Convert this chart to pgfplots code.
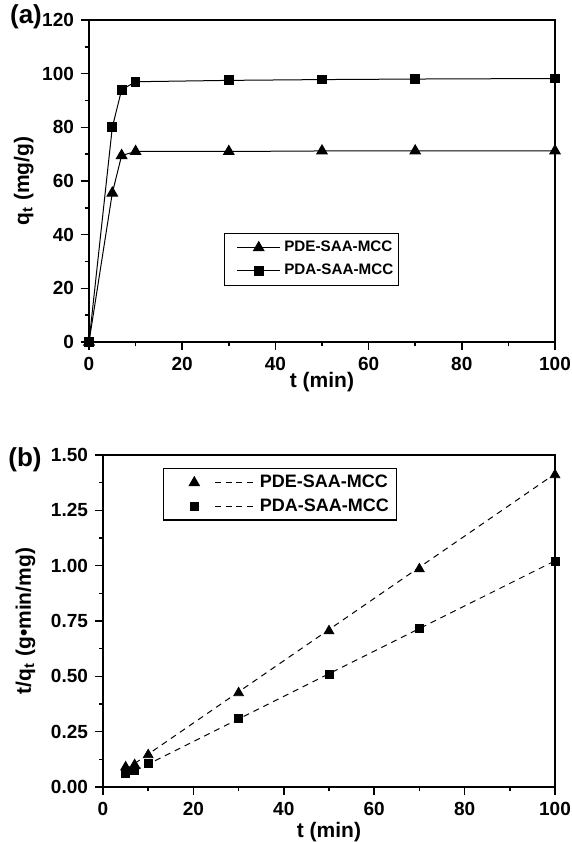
\documentclass[border=0pt]{standalone}
\usepackage{fontspec}
\setmainfont{Liberation Sans}
\usepackage{pgfplots}
\pgfplotsset{compat=1.18}

\pgfplotstableread{
t    pde    pda
0    0      0
5    55.5   80
7    69.5   94
10   71     97
30   71     97.5
50   71.2   97.8
70   71.2   98
100  71.2   98.2
}\kinetics

\pgfplotstableread{
t    pde    pda
5    0.090  0.063
7    0.100  0.075
10   0.145  0.105
30   0.425  0.310
50   0.705  0.510
70   0.985  0.715
100  1.410  1.020
}\pseudo

\pgfplotsset{
  kin/.style={
    scale only axis,
    xmin=0, xmax=100, xtick={0,20,...,100}, minor x tick num=1,
    tick align=outside, xtick pos=bottom, ytick pos=left,
    axis line style={line width=1pt},
    major tick length=4pt, minor tick length=2.2pt,
    every tick/.style={black, line width=0.8pt},
    tick label style={font=\bfseries\fontsize{9.5}{11}\selectfont},
    label style={font=\bfseries\fontsize{10.5}{12}\selectfont},
    /pgf/number format/assume math mode=true,
    legend style={font=\bfseries\fontsize{9}{10.5}\selectfont, draw=black,
      line width=0.6pt, cells={anchor=west}, inner xsep=2pt, inner ysep=1pt,
      nodes={inner xsep=2pt, inner ysep=2pt}, row sep=0pt},
  },
}

\begin{document}
\begin{tikzpicture}
\useasboundingbox (0,0) rectangle (286pt,-421pt);

% (a) uptake versus time
\begin{axis}[kin,
  at={(44.5pt,-171pt)}, anchor=south west,
  width=233pt, height=161pt,
  ymin=0, ymax=120, ytick={0,20,...,120}, minor y tick num=1,
  xlabel={t (min)}, ylabel={q\textsubscript{t} (mg/g)},
  xlabel shift=-6pt, ylabel shift=-2.5pt,
  legend style={at={(0.29,0.34)}, anchor=north west,
    font=\bfseries\fontsize{7.6}{9}\selectfont, inner xsep=1pt, inner ysep=1.5pt,
    nodes={inner xsep=1.8pt, inner ysep=2.4pt}},
  legend image code/.code={
    \draw[line width=0.5pt] (5pt,0pt) -- (26.5pt,0pt);
    \draw[line width=0.5pt] plot coordinates {(15.75pt,0pt)};
    \path (0pt,0pt);
  },
]
\addplot[black, line width=0.5pt, mark=triangle*, mark size=3pt,
  mark options={fill=black}] table[x=t, y=pde] {\kinetics};
\addplot[black, line width=0.5pt, mark=square*, mark size=2.2pt,
  mark options={fill=black}] table[x=t, y=pda] {\kinetics};
\legend{PDE-SAA-MCC, PDA-SAA-MCC}
\end{axis}
\node[font=\bfseries\fontsize{13}{15}\selectfont] at (13pt,-8.5pt) {(a)};

% (b) pseudo-second-order plot
\begin{axis}[kin,
  at={(51.5pt,-393.5pt)}, anchor=south west,
  width=226pt, height=166pt,
  ymin=0, ymax=1.5, ytick={0,0.25,...,1.5}, minor y tick num=1,
  yticklabel style={/pgf/number format/.cd, fixed, fixed zerofill, precision=2},
  xlabel={t (min)}, ylabel={t/q\textsubscript{t} (g•min/mg)},
  xlabel shift=-3.5pt, ylabel shift=1pt,
  legend style={at={(0.133,0.96)}, anchor=north west},
]
\addplot[black, only marks, mark=triangle*, mark size=2.8pt,
  mark options={fill=black},
  legend image code/.code={
    \path (0pt,0pt);
    \draw plot[mark=triangle*, only marks] coordinates {(13pt,0pt)};
    \draw[line width=0.5pt, solid, dash pattern=on 3pt off 2.2pt] (23.5pt,0pt) -- (43.5pt,0pt);
  }] table[x=t, y=pde] {\pseudo};
\addplot[black, only marks, mark=square*, mark size=2pt,
  mark options={fill=black},
  legend image code/.code={
    \path (0pt,0pt);
    \draw plot[mark=square*, only marks] coordinates {(13pt,0pt)};
    \draw[line width=0.5pt, solid, dash pattern=on 3pt off 2.2pt] (23.5pt,0pt) -- (43.5pt,0pt);
  }] table[x=t, y=pda] {\pseudo};
\addplot[black, line width=0.5pt, dash pattern=on 3pt off 2.5pt, forget plot]
  coordinates {(5,0.078) (100,1.415)};
\addplot[black, line width=0.5pt, dash pattern=on 3pt off 2.5pt, forget plot]
  coordinates {(5,0.052) (100,1.022)};
\legend{PDE-SAA-MCC, PDA-SAA-MCC}
\end{axis}
\node[font=\bfseries\fontsize{13}{15}\selectfont] at (12.5pt,-230pt) {(b)};
\end{tikzpicture}
\end{document}
